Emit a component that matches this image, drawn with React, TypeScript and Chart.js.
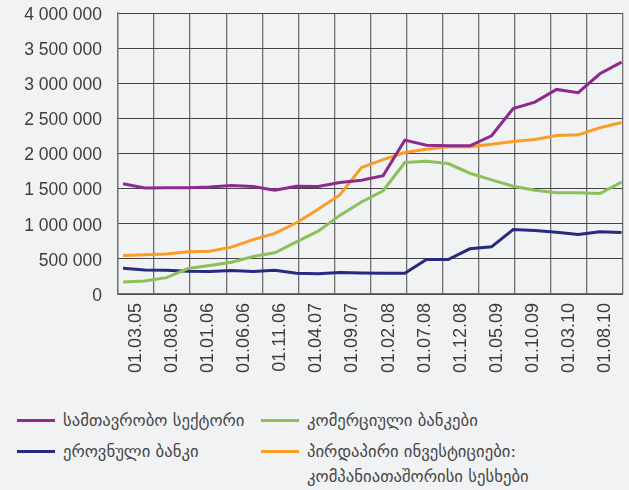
import React, { useEffect, useRef } from 'react';
import { Chart, registerables } from 'chart.js';

Chart.register(...registerables);

// Category tick labels shown under the plot (every 5 months)
const tickLabels = [
  '01.03.05', '01.08.05', '01.01.06', '01.06.06', '01.11.06', '01.04.07', '01.09.07',
  '01.02.08', '01.07.08', '01.12.08', '01.05.09', '01.10.09', '01.03.10', '01.08.10',
];

// Quarterly observation dates
const pointDates = [
  '01.03.05', '01.06.05', '01.09.05', '01.12.05',
  '01.03.06', '01.06.06', '01.09.06', '01.12.06',
  '01.03.07', '01.06.07', '01.09.07', '01.12.07',
  '01.03.08', '01.06.08', '01.09.08', '01.12.08',
  '01.03.09', '01.06.09', '01.09.09', '01.12.09',
  '01.03.10', '01.06.10', '01.09.10', '01.12.10',
];

const governmentSector = [
  1570000, 1510000, 1514000, 1514000, 1524000, 1543000, 1530000, 1476000,
  1533000, 1529000, 1586000, 1619000, 1685000, 2190000, 2119000, 2110000,
  2110000, 2252000, 2641000, 2732000, 2912000, 2865000, 3135000, 3301000,
];

const commercialBanks = [
  171000, 186000, 233000, 362000, 405000, 452000, 533000, 586000,
  743000, 895000, 1119000, 1310000, 1470000, 1871000, 1890000, 1857000,
  1719000, 1624000, 1535000, 1478000, 1440000, 1440000, 1431000, 1592000,
];

const nationalBank = [
  367000, 343000, 338000, 324000, 319000, 333000, 321000, 338000,
  295000, 290000, 305000, 300000, 295000, 295000, 490000, 490000,
  643000, 671000, 918000, 904000, 880000, 847000, 885000, 875000,
];

const directInvestment = [
  548000, 557000, 571000, 600000, 610000, 667000, 775000, 862000,
  1014000, 1205000, 1410000, 1800000, 1912000, 2014000, 2062000, 2095000,
  2095000, 2133000, 2171000, 2200000, 2257000, 2266000, 2366000, 2442000,
];

const seriesNames = [
  'სამთავრობო სექტორი',
  'კომერციული ბანკები',
  'ეროვნული ბანკი',
  'პირდაპირი ინვესტიციები:\nკომპანიათაშორისი სესხები',
];
const seriesColors = ['#8c2a8d', '#8cc05a', '#272a7f', '#f99d26'];
const seriesValues = [governmentSector, commercialBanks, nationalBank, directInvestment];

const yTickValues = [0, 500000, 1000000, 1500000, 2000000, 2500000, 3000000, 3500000, 4000000];

const BG = '#f1f2f4';
const FONT = "'Liberation Sans', Arial, sans-serif";

function monthsFromStart(d: string): number {
  const [, mm, yy] = d.split('.').map(Number);
  return (yy - 5) * 12 + (mm - 3);
}

function fmt(v: number): string {
  return String(Math.round(v)).replace(/\B(?=(\d{3})+(?!\d))/g, ' ');
}

export default function App() {
  const canvasRef = useRef<HTMLCanvasElement | null>(null);

  useEffect(() => {
    if (!canvasRef.current) return;
    const chart = new Chart(canvasRef.current, {
      type: 'line',
      data: {
        labels: tickLabels,
        datasets: seriesValues.map((vals, i) => ({
          label: seriesNames[i],
          data: vals.map((v, j) => ({ x: monthsFromStart(pointDates[j]), y: v })),
          borderColor: seriesColors[i],
          backgroundColor: seriesColors[i],
          borderWidth: 3,
          pointRadius: 0,
          tension: 0,
          xAxisID: 'xd',
          yAxisID: 'y',
        })),
      },
      options: {
        animation: false,
        responsive: true,
        maintainAspectRatio: false,
        layout: { padding: { top: 13, right: 6, left: 0, bottom: 0 } },
        plugins: { legend: { display: false }, tooltip: { enabled: false } },
        scales: {
          x: {
            type: 'category',
            labels: tickLabels,
            offset: true,
            grid: { offset: true, color: '#6f6f6f', lineWidth: 1.3, drawTicks: false },
            border: { color: '#6f6f6f', width: 1.3 },
            ticks: {
              maxRotation: 90,
              minRotation: 90,
              autoSkip: false,
              padding: 9,
              color: '#3d3d3d',
              font: { family: FONT, size: 18 },
            },
            afterFit: (s: any) => {
              s.height = 96;
              s.paddingLeft = 0;
              s.paddingRight = 0;
              s.paddingTop = 0;
              s.paddingBottom = 0;
            },
          },
          xd: {
            type: 'linear',
            display: false,
            min: -0.7,
            max: 69.2,
          },
          y: {
            type: 'linear',
            min: 0,
            max: 4000000,
            afterBuildTicks: (s: any) => { s.ticks = yTickValues.map((v) => ({ value: v })); },
            grid: { color: '#444444', lineWidth: 1, drawTicks: false },
            border: { color: '#6f6f6f', width: 1.3 },
            ticks: {
              padding: 16,
              labelOffset: 2,
              color: '#3d3d3d',
              font: { family: FONT, size: 17.5 },
              callback: (v: any) => fmt(Number(v)),
            },
            afterFit: (s: any) => {
              s.width = 118;
              s.paddingTop = 0;
              s.paddingBottom = 0;
              s.paddingLeft = 0;
              s.paddingRight = 0;
            },
          },
        },
      },
    });
    return () => chart.destroy();
  }, []);

  const legendPos = [
    { left: 17, top: 420.7 },
    { left: 261, top: 420.7 },
    { left: 17, top: 451.7 },
    { left: 261, top: 451.7 },
  ];

  return (
    <div style={{ position: 'fixed', left: 0, top: 0, width: 629, height: 490, background: BG, overflow: 'hidden' }}>
      <div style={{ position: 'absolute', left: 0, top: 0, width: 629, height: 390 }}>
        <canvas ref={canvasRef} />
      </div>
      {seriesNames.map((name, i) => (
        <div
          key={i}
          style={{ position: 'absolute', left: legendPos[i].left, top: legendPos[i].top - 13, display: 'flex', alignItems: 'flex-start' }}
        >
          <span style={{ display: 'inline-block', width: 38, height: 3, marginTop: 11.5, background: seriesColors[i] }} />
          <span
            style={{
              marginLeft: 8,
              whiteSpace: 'pre-line',
              fontFamily: "'DejaVu Sans', sans-serif",
              fontSize: 16.7,
              lineHeight: '25.5px',
              color: '#474747',
            }}
          >
            {name}
          </span>
        </div>
      ))}
    </div>
  );
}
